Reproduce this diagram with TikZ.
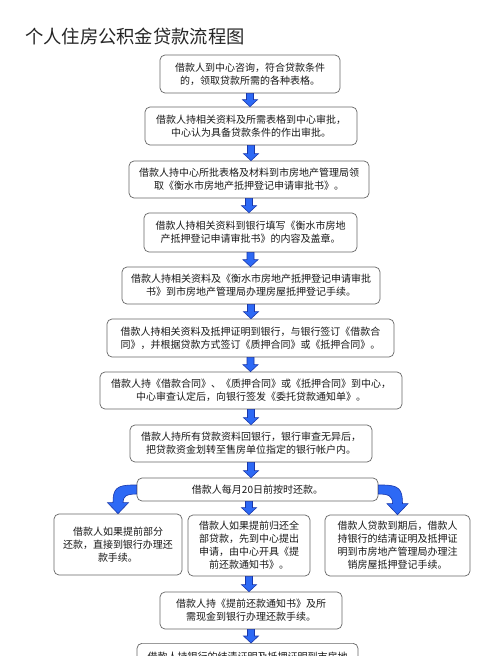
\documentclass[tikz,border=0pt]{standalone}
\usepackage{fontspec}
\setmainfont{Noto Sans CJK SC}
\usetikzlibrary{calc}
\definecolor{arrowblue}{RGB}{45,105,245}
\definecolor{arrowedge}{RGB}{25,55,170}
\newcommand\blockarrow[2]{%
  \path[fill=arrowblue,draw=arrowedge,line width=0.6pt] let \p1=#1, \p2=#2 in
  (\x1-3.5pt,\y1) -- (\x1+3.5pt,\y1) -- (\x1+3.5pt,\y2+7pt) -- (\x1+7.5pt,\y2+7pt)
  -- (\x1,\y2) -- (\x1-7.5pt,\y2+7pt) -- (\x1-3.5pt,\y2+7pt) -- cycle;}
\tikzset{
  box/.style={draw=black!60, line width=0.7pt, rounded corners=5pt, fill=white,
    align=center, inner sep=0pt, text=black!90,
    font=\fontsize{10}{13}\selectfont},
}
\begin{document}
\begin{tikzpicture}[x=1pt,y=1pt]
\useasboundingbox (0,0) rectangle (500,-656);
\clip (0,0) rectangle (500,-656);
\fill[white] (0,0) rectangle (500,-656);

\node[anchor=west, inner sep=0pt, text=black!85, font=\fontsize{18.3}{20}\selectfont] (title) at (25,-36) {个人住房公积金贷款流程图};

\node[box, minimum width=180pt, minimum height=38pt] (b1) at (250,-74)
  {借款人到中心咨询，符合贷款条件\\的，领取贷款所需的各种表格。};
\node[box, minimum width=212pt, minimum height=38pt] (b2) at (251,-126)
  {借款人持相关资料及所需表格到中心审批，\\中心认为具备贷款条件的作出审批。};
\node[box, minimum width=240pt, minimum height=37pt] (b3) at (249,-179.5)
  {借款人持中心所批表格及材料到市房地产管理局领\\取《衡水市房地产抵押登记申请审批书》。};
\node[box, minimum width=213pt, minimum height=39pt] (b4) at (250.5,-232.5)
  {借款人持相关资料到银行填写《衡水市房地\\产抵押登记申请审批书》的内容及盖章。};
\node[box, minimum width=258pt, minimum height=37pt] (b5) at (251,-285.5)
  {借款人持相关资料及《衡水市房地产抵押登记申请审批\\书》到市房地产管理局办理房屋抵押登记手续。};
\node[box, minimum width=287pt, minimum height=38pt] (b6) at (250.5,-338)
  {借款人持相关资料及抵押证明到银行，与银行签订《借款合\\同》，并根据贷款方式签订《质押合同》或《抵押合同》。};
\node[box, minimum width=302pt, minimum height=37pt] (b7) at (251,-390.5)
  {借款人持《借款合同》、《质押合同》或《抵押合同》到中心，\\中心审查认定后，向银行签发《委托贷款通知单》。};
\node[box, minimum width=242pt, minimum height=37pt] (b8) at (251,-443.5)
  {借款人持所有贷款资料回银行，银行审查无异后，\\把贷款资金划转至售房单位指定的银行帐户内。};
\node[box, minimum width=241pt, minimum height=23pt] (b9) at (257.5,-489.5)
  {借款人每月20日前按时还款。};
\node[box, minimum width=128pt, minimum height=61pt] (b10) at (118,-544.5)
  {借款人如果提前部分\\还款，直接到银行办理还\\款手续。};
\node[box, minimum width=122pt, minimum height=61pt] (b11) at (249,-545.5)
  {借款人如果提前归还全\\部贷款，先到中心提出\\申请，由中心开具《提\\前还款通知书》。};
\node[box, minimum width=145pt, minimum height=61pt] (b12) at (397.5,-545.5)
  {借款人贷款到期后，借款人\\持银行的结清证明及抵押证\\明到市房地产管理局办理注\\销房屋抵押登记手续。};
\node[box, minimum width=182pt, minimum height=37pt] (b13) at (251,-610.5)
  {借款人持《提前还款通知书》及所\\需现金到银行办理还款手续。};
\node[box, anchor=north, minimum width=221pt, minimum height=38pt] (b14) at (247.5,-643)
  {借款人持银行的结清证明及抵押证明到市房地\\\mbox{}};

\blockarrow{(b1.south)}{(b2.north)}
\blockarrow{(b2.south)}{(b3.north)}
\blockarrow{(b3.south)}{(b4.north)}
\blockarrow{(b4.south)}{(b5.north)}
\blockarrow{(b5.south)}{(b6.north)}
\blockarrow{(b6.south)}{(b7.north)}
\blockarrow{(b7.south)}{(b8.north)}
\blockarrow{(b8.south)}{(b8.south |- b9.north)}
\blockarrow{(b9.south -| b11.north)}{(b11.north)}
\blockarrow{(b11.south)}{(b11.south |- b13.north)}
\blockarrow{(b13.south)}{(b13.south |- b14.north)}

% curved arrows
\path[fill=arrowblue,draw=arrowedge,line width=0.6pt] let \p1=(b9.west), \p2=(b10.north) in
  (\x1,\y1+4.5pt) -- (\x1-4pt,\y1+4.5pt)
  .. controls (\x2-2pt,\y1+4.5pt) and (\x2-5pt,\y1) .. (\x2-5pt,\y2+11pt)
  -- (\x2-10.5pt,\y2+11pt) -- (\x2,\y2) -- (\x2+10.5pt,\y2+11pt) -- (\x2+5pt,\y2+11pt)
  .. controls (\x2+5pt,\y1-7pt) and (\x2+8pt,\y1-4.5pt) .. (\x1,\y1-4.5pt) -- cycle;
\path[fill=arrowblue,draw=arrowedge,line width=0.6pt] let \p1=(b9.east), \p2=(b12.north) in
  (\x1,\y1+4.5pt) -- (\x1+4pt,\y1+4.5pt)
  .. controls (\x2+2pt,\y1+4.5pt) and (\x2+5pt,\y1) .. (\x2+5pt,\y2+11pt)
  -- (\x2+10.5pt,\y2+11pt) -- (\x2,\y2) -- (\x2-10.5pt,\y2+11pt) -- (\x2-5pt,\y2+11pt)
  .. controls (\x2-5pt,\y1-7pt) and (\x2-8pt,\y1-4.5pt) .. (\x1,\y1-4.5pt) -- cycle;
\end{tikzpicture}
\end{document}
